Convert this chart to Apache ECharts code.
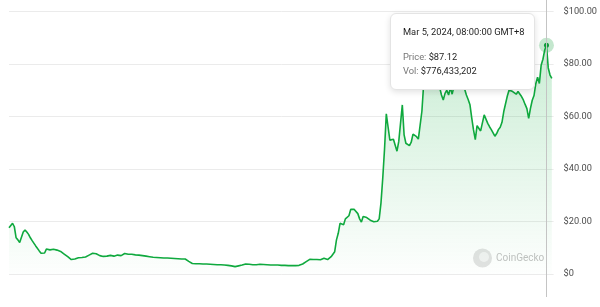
<!DOCTYPE html>
<html><head><meta charset="utf-8">
<script src="https://cdn.jsdelivr.net/npm/echarts@6/dist/echarts.min.js"></script>
<style>html,body{margin:0;padding:0;background:#fff}#c{width:600px;height:307px}</style>
</head><body><div id="c"></div>
<script>
// Daily price (USD), one value per day starting at startDate
const startDate = '2023-05-08';
const prices = [
17.6, 18.0, 19.3, 18.0, 13.8, 13.0, 12.0, 11.3, 16.0, 16.8,
16.0, 15.1, 13.8, 12.7, 12.1, 10.7, 10.0, 8.8, 7.9, 7.9,
8.0, 9.5, 9.8, 9.2, 9.0, 9.4, 9.1, 9.1, 9.3, 8.6,
8.0, 7.6, 7.2, 6.6, 6.1, 5.5, 5.3, 5.7, 5.8, 6.2,
6.4, 6.3, 6.2, 6.5, 6.1, 7.2, 7.6, 7.9, 8.1, 7.7,
7.2, 7.0, 7.0, 6.7, 6.5, 6.8, 7.0, 7.1, 7.2, 6.8,
6.6, 7.2, 6.7, 7.0, 7.2, 7.8, 7.7, 7.5, 7.5, 7.5,
7.5, 7.3, 7.2, 7.2, 7.1, 7.0, 6.9, 6.8, 6.7, 6.6,
6.5, 6.4, 6.3, 6.3, 6.2, 6.2, 6.2, 6.1, 6.1, 6.1,
6.0, 6.0, 5.9, 5.9, 5.8, 5.8, 5.7, 5.7, 5.7, 5.7,
5.6, 4.8, 4.2, 4.0, 3.9, 3.9, 3.9, 3.9, 3.9, 3.8,
3.8, 3.8, 3.7, 3.7, 3.7, 3.6, 3.6, 3.5, 3.4, 3.5,
3.5, 3.4, 3.4, 3.3, 3.2, 3.1, 3.0, 2.8, 3.0, 3.1,
3.2, 3.4, 3.6, 3.8, 3.8, 3.7, 3.7, 3.5, 3.4, 3.5,
3.6, 3.7, 3.6, 3.6, 3.6, 3.5, 3.5, 3.4, 3.4, 3.4,
3.4, 3.4, 3.3, 3.3, 3.3, 3.3, 3.3, 3.2, 3.2, 3.2,
3.2, 3.2, 3.3, 3.3, 3.5, 3.8, 4.2, 4.7, 5.2, 5.6,
5.6, 5.5, 5.5, 5.5, 5.5, 5.4, 5.6, 6.0, 5.7, 5.5,
5.8, 6.6, 7.2, 8.5, 13.0, 15.5, 19.3, 19.9, 18.8, 21.0,
20.8, 22.2, 24.6, 25.0, 24.6, 23.9, 23.0, 21.0, 19.8, 21.9,
21.6, 21.5, 21.4, 20.5, 20.2, 19.9, 19.5, 20.1, 21.0, 27.0,
36.5, 47.5, 61.0, 56.0, 51.0, 51.0, 51.3, 51.3, 46.8, 50.5,
50.8, 64.4, 53.0, 49.8, 50.4, 48.9, 50.2, 53.3, 53.0, 52.3,
51.4, 51.7, 62.0, 72.5, 76.0, 80.0, 78.0, 82.0, 77.0, 75.0,
78.0, 74.0, 71.0, 68.2, 66.3, 68.8, 70.0, 68.2, 71.0, 68.5,
71.5, 75.0, 78.0, 80.0, 76.0, 73.0, 70.5, 68.2, 66.5, 64.5,
59.5, 54.9, 51.2, 56.5, 56.3, 54.5, 55.0, 60.6, 59.9, 57.4,
56.1, 55.0, 53.8, 52.5, 53.5, 55.0, 55.9, 57.8, 61.9, 62.5,
67.8, 70.1, 69.5, 69.5, 68.8, 68.5, 69.5, 68.8, 67.6, 66.3,
64.6, 63.0, 59.3, 63.1, 66.2, 68.0, 72.5, 75.0, 72.6, 79.5,
81.8, 85.3, 87.12, 78.5, 75.8, 74.5
];
const yTicks = [0, 20, 40, 60, 80, 100];
const hoverDate = '2024-03-05';
const hoverVolume = 776433202;
const watermarkText = 'CoinGecko';

const DAY = 86400000;
const t0 = Date.parse(startDate + 'T00:00:00Z');
const data = prices.map((v, i) => [t0 + i * DAY, v]);
const hoverIdx = Math.round((Date.parse(hoverDate + 'T00:00:00Z') - t0) / DAY);
const GREEN = '#0e9a39';
const MONTHS = ['Jan','Feb','Mar','Apr','May','Jun','Jul','Aug','Sep','Oct','Nov','Dec'];
const p2 = n => String(n).padStart(2, '0');

const chart = echarts.init(document.getElementById('c'), null, {renderer: 'canvas'});
chart.setOption({
  animation: false,
  grid: {left: 9, right: 46, top: 0, bottom: 10},
  xAxis: {
    type: 'time', min: t0, max: t0 + prices.length * DAY,
    show: true, axisLine: {show: false}, axisTick: {show: false},
    axisLabel: {show: false}, splitLine: {show: false}
  },
  yAxis: {
    type: 'value', position: 'right', min: -8.762, max: 104.38,
    axisLine: {show: false},
    axisTick: {show: false, customValues: yTicks},
    axisLabel: {
      customValues: yTicks, margin: 10, color: '#4d4d4d',
      fontFamily: 'Roboto', fontSize: 9.2, padding: [0, 0, 6, 0],
      formatter: v => v === 0 ? '$0' : '$' + v.toFixed(2)
    },
    splitLine: {show: true, lineStyle: {color: '#ebebeb', width: 1}}
  },
  tooltip: {
    trigger: 'axis', triggerOn: 'none', alwaysShowContent: true,
    position: [390, 13], transitionDuration: 0,
    padding: [11, 12], backgroundColor: '#fff', borderColor: '#e4e4e4', borderWidth: 1,
    textStyle: {fontSize: 9, fontFamily: 'Roboto', color: '#333'},
    extraCssText: 'width:145px;box-sizing:border-box;border-radius:6px;box-shadow:0 2px 6px rgba(0,0,0,0.12);',
    axisPointer: {type: 'line', lineStyle: {color: '#c4c4c4', width: 1, type: 'solid'}, label: {show: false}},
    formatter: params => {
      const p = params[0];
      const d = new Date(p.value[0] + 8 * 3600000);
      const ds = MONTHS[d.getUTCMonth()] + ' ' + d.getUTCDate() + ', ' + d.getUTCFullYear() + ', ' +
        p2(d.getUTCHours()) + ':' + p2(d.getUTCMinutes()) + ':' + p2(d.getUTCSeconds()) + ' GMT+8';
      const lbl = 'color:#767676';
      return '<div style="font:9.3px Roboto;line-height:14px;color:#1f1f1f">' +
        '<div>' + ds + '</div>' +
        '<div style="margin-top:11px"><span style="' + lbl + '">Price:</span> $' + p.value[1].toFixed(2) + '</div>' +
        '<div><span style="' + lbl + '">Vol:</span> $' + hoverVolume.toLocaleString('en-US') + '</div></div>';
    }
  },
  graphic: [
    {type: 'circle', shape: {cx: 482.5, cy: 258, r: 9.5}, style: {fill: '#e2e2e2'}, z: 1, silent: true},
    {type: 'circle', shape: {cx: 484, cy: 257, r: 5}, style: {fill: '#f2f2f2'}, z: 1, silent: true},
    {type: 'text', x: 496, y: 258, style: {text: watermarkText, fill: '#c2c2c2', font: '10px Roboto', verticalAlign: 'middle'}, z: 1, silent: true}
  ],
  series: [{
    type: 'line', data: data, symbol: 'none', smooth: false,
    lineStyle: {color: GREEN, width: 1.6},
    areaStyle: {
      color: new echarts.graphic.LinearGradient(0, 0, 0, 1, [
        {offset: 0, color: 'rgba(19,160,60,0.32)'},
        {offset: 1, color: 'rgba(19,160,60,0.01)'}
      ])
    },
    markPoint: {
      silent: true, label: {show: false}, animation: false,
      data: [
        {coord: data[hoverIdx], symbol: 'circle', symbolSize: 15, itemStyle: {color: 'rgba(19,160,60,0.25)'}},
        {coord: data[hoverIdx], symbol: 'circle', symbolSize: 5, itemStyle: {color: GREEN}}
      ]
    }
  }]
});
chart.dispatchAction({type: 'showTip', seriesIndex: 0, dataIndex: hoverIdx});
</script></body></html>
